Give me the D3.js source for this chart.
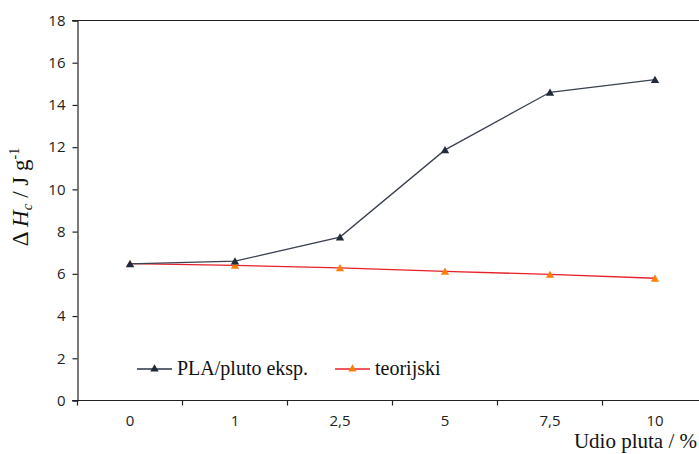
<!DOCTYPE html>
<html><head><meta charset="utf-8">
<script src="https://cdn.jsdelivr.net/npm/d3@7"></script>
<style>body{margin:0;background:#fff}svg{display:block}</style>
</head><body>
<script>
const categories = ["0","1","2,5","5","7,5","10"];
const plaValues = [6.47, 6.6, 7.74, 11.87, 14.6, 15.2];
const teoValues = [6.48, 6.4, 6.28, 6.12, 5.97, 5.79];
const yTicks = [0,2,4,6,8,10,12,14,16,18];
const seriesNames = ["PLA/pluto eksp.", "teorijski"];

const W = 699, H = 454;
const svg = d3.select("body").append("svg").attr("width", W).attr("height", H);
const x = d3.scaleBand().domain(categories).range([77.5, 707.5]);
const y = d3.scaleLinear().domain([0, 18]).range([400.5, 20.5]);
const sans = "'Open Sans', 'Liberation Sans', sans-serif";
const serif = "'Liberation Serif', 'DejaVu Serif', serif";

svg.append("line").attr("x1", 72).attr("x2", W).attr("y1", y(18)).attr("y2", y(18))
  .attr("stroke", "#222").attr("stroke-width", 1.2);

const yAxis = svg.append("g").attr("transform", "translate(77.5,0)")
  .call(d3.axisLeft(y).tickValues(yTicks).tickSize(5).tickPadding(7));
yAxis.selectAll("path,line").attr("stroke", "#222").attr("stroke-width", 1.2);
yAxis.selectAll("text").attr("font-family", sans).attr("font-size", 15).attr("fill", "#222");

const xAxis = svg.append("g").attr("transform", "translate(0,400.5)")
  .call(d3.axisBottom(x).tickSize(0).tickPadding(15));
xAxis.select("path").attr("stroke", "#222").attr("stroke-width", 1.2).attr("d", "M72,0H" + W);
xAxis.selectAll("text").attr("font-family", sans).attr("font-size", 15).attr("fill", "#222");
const bounds = categories.map((c) => x(c)).concat([x(categories[5]) + x.bandwidth()]);
xAxis.selectAll("line.b").data(bounds).enter().append("line").attr("class","b")
  .attr("x1", d => d).attr("x2", d => d).attr("y1", 0).attr("y2", 5)
  .attr("stroke", "#222").attr("stroke-width", 1.2);

const cx = c => x(c) + x.bandwidth() / 2;
const line = d3.line().x((d, i) => cx(categories[i])).y(d => y(d));
const tri = d3.symbol().type(d3.symbolTriangle).size(30);

function series(vals, lineColor, markColor) {
  svg.append("path").datum(vals).attr("d", line).attr("fill", "none")
    .attr("stroke", lineColor).attr("stroke-width", 1.3);
  svg.selectAll(null).data(vals).enter().append("path").attr("d", tri)
    .attr("transform", (d, i) => `translate(${cx(categories[i])},${y(d) + 1})`)
    .attr("fill", markColor);
}
series(teoValues, "#e8202a", "#ff7f0e");
series(plaValues, "#3a4250", "#1f2a3a");

const leg = [{x: 137, line: "#2a3344", mark: "#1f2a3a"}, {x: 335, line: "#e8202a", mark: "#ff7f0e"}];
leg.forEach((l, i) => {
  svg.append("line").attr("x1", l.x).attr("x2", l.x + 35).attr("y1", 369).attr("y2", 369)
    .attr("stroke", l.line).attr("stroke-width", 1.3);
  svg.append("path").attr("d", tri).attr("transform", `translate(${l.x + 17.5},369)`).attr("fill", l.mark);
  svg.append("text").attr("x", l.x + 40).attr("y", 375).text(seriesNames[i])
    .attr("font-family", serif).attr("font-size", 20).attr("fill", "#111");
});

svg.append("text").attr("x", 697).attr("y", 448).attr("text-anchor", "end")
  .attr("font-family", serif).attr("font-size", 21).attr("fill", "#111").text("Udio pluta / %");

const yt = svg.append("text").attr("transform", "translate(28,197) rotate(-90)")
  .attr("text-anchor", "middle").attr("font-family", serif).attr("font-size", 23).attr("fill", "#111");
yt.append("tspan").text("Δ ");
yt.append("tspan").attr("font-style", "italic").text("H");
yt.append("tspan").attr("font-style", "italic").attr("font-size", 15).attr("dy", 4).text("c");
yt.append("tspan").attr("dy", -4).text(" / J g");
yt.append("tspan").attr("font-size", 14).attr("dy", -9).text("-1");
</script>
</body></html>
